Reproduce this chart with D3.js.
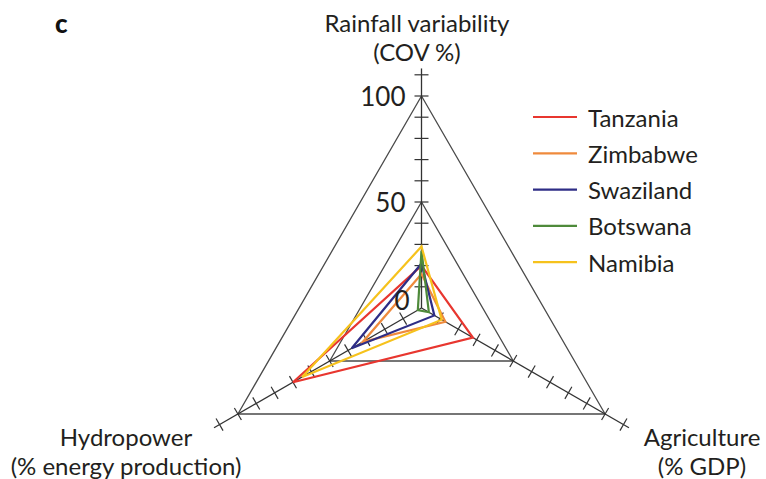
<!DOCTYPE html>
<html>
<head>
<meta charset="utf-8">
<script src="https://cdn.jsdelivr.net/npm/d3@7"></script>
<style>
  body { margin: 0; background: #fff; }
  svg { display: block; font-family: Lato, "Open Sans", sans-serif; }
</style>
</head>
<body>
<svg id="chart" width="766" height="479"></svg>
<script>
// data
const countries = ["Tanzania", "Zimbabwe", "Swaziland", "Botswana", "Namibia"];
const colors = ["#e8362f", "#ef8a3c", "#2e2d86", "#4e8a3a", "#f6c21c"];
const rainfall = [20, 16, 21, 27, 29];
const agriculture = [28, 13, 7, 4, 11];
const hydropower = [70, 32, 38, 2, 65];

const axes = [
    { key: "rain", lines: ["Rainfall variability", "(COV %)"], angle: -90 },
    { key: "agri", lines: ["Agriculture", "(% GDP)"], angle: 30 },
    { key: "hydro", lines: ["Hydropower", "(% energy production)"], angle: 150 }
];
const gridLevels = [50, 100];
const tickValues = d3.range(10, 111, 10);
const tickLabels = [100, 50, 0];

const svg = d3.select("#chart");
const cx = 421.5, cy = 308;

const r = d3.scaleLinear().domain([0, 100]).range([0, 212]);

function pt(angleDeg, v) {
    const a = angleDeg * Math.PI / 180;
    return [cx + r(v) * Math.cos(a), cy + r(v) * Math.sin(a)];
}

// grid triangles
const line = d3.line();
svg.append("g")
    .selectAll("path")
    .data(gridLevels)
    .join("path")
    .attr("d", lv => line(axes.map(a => pt(a.angle, lv))) + "Z")
    .attr("fill", "none")
    .attr("stroke", "#4a4a4a")
    .attr("stroke-width", 1.3);

// axes with ticks
const axisG = svg.append("g");
axes.forEach(a => {
    const end = pt(a.angle, 113);
    axisG.append("line")
        .attr("x1", cx).attr("y1", cy)
        .attr("x2", end[0]).attr("y2", end[1])
        .attr("stroke", "#333")
        .attr("stroke-width", 1.3);
    const rad = a.angle * Math.PI / 180;
    const px = -Math.sin(rad), py = Math.cos(rad);
    axisG.selectAll(null)
        .data(tickValues)
        .join("line")
        .attr("x1", v => pt(a.angle, v)[0] - px * 7)
        .attr("y1", v => pt(a.angle, v)[1] - py * 7)
        .attr("x2", v => pt(a.angle, v)[0] + px * 7)
        .attr("y2", v => pt(a.angle, v)[1] + py * 7)
        .attr("stroke", "#333")
        .attr("stroke-width", 1.2);
});

// country triangles
const series = countries.map((c, i) => ({
    name: c,
    color: colors[i],
    values: [rainfall[i], agriculture[i], hydropower[i]]
}));

svg.append("g")
    .selectAll("path")
    .data(series)
    .join("path")
    .attr("d", d => line(d.values.map((v, j) => pt(axes[j].angle, v))) + "Z")
    .attr("fill", "none")
    .attr("stroke", d => d.color)
    .attr("stroke-width", 2.2)
    .attr("stroke-linejoin", "miter");

// scale labels on vertical axis
svg.append("g")
    .selectAll("text")
    .data(tickLabels)
    .join("text")
    .attr("x", v => cx - (v === 0 ? 12 : 16))
    .attr("y", v => pt(-90, v)[1] - (v === 0 ? 8 : 0))
    .attr("text-anchor", "end")
    .attr("dominant-baseline", "central")
    .attr("font-size", 26)
    .attr("fill", "#231f20")
    .text(d => d);

// axis titles
const titlePos = {
    rain: [417, 22],
    agri: [702, 436],
    hydro: [126, 436]
};
axes.forEach(a => {
    const [x, y] = titlePos[a.key];
    svg.append("text")
        .attr("x", x)
        .attr("y", y)
        .attr("text-anchor", "middle")
        .attr("dominant-baseline", "central")
        .attr("font-size", 24)
        .attr("fill", "#231f20")
        .selectAll("tspan")
        .data(a.lines)
        .join("tspan")
        .attr("x", x)
        .attr("dy", (d, i) => i === 0 ? 0 : 29)
        .text(d => d);
});

// legend
const legend = svg.append("g")
    .selectAll("g")
    .data(series)
    .join("g")
    .attr("transform", (d, i) => `translate(533, ${117 + i * 36.3})`);

legend.append("line")
    .attr("x1", 0).attr("x2", 44)
    .attr("stroke", d => d.color)
    .attr("stroke-width", 2.2);

legend.append("text")
    .attr("x", 55)
    .attr("dominant-baseline", "central")
    .attr("font-size", 24)
    .attr("fill", "#231f20")
    .text(d => d.name);

// panel letter
svg.append("text")
    .attr("x", 55)
    .attr("y", 23)
    .attr("dominant-baseline", "central")
    .attr("font-size", 26)
    .attr("font-weight", "900")
    .attr("fill", "#111")
    .text("c");
</script>
</body>
</html>
